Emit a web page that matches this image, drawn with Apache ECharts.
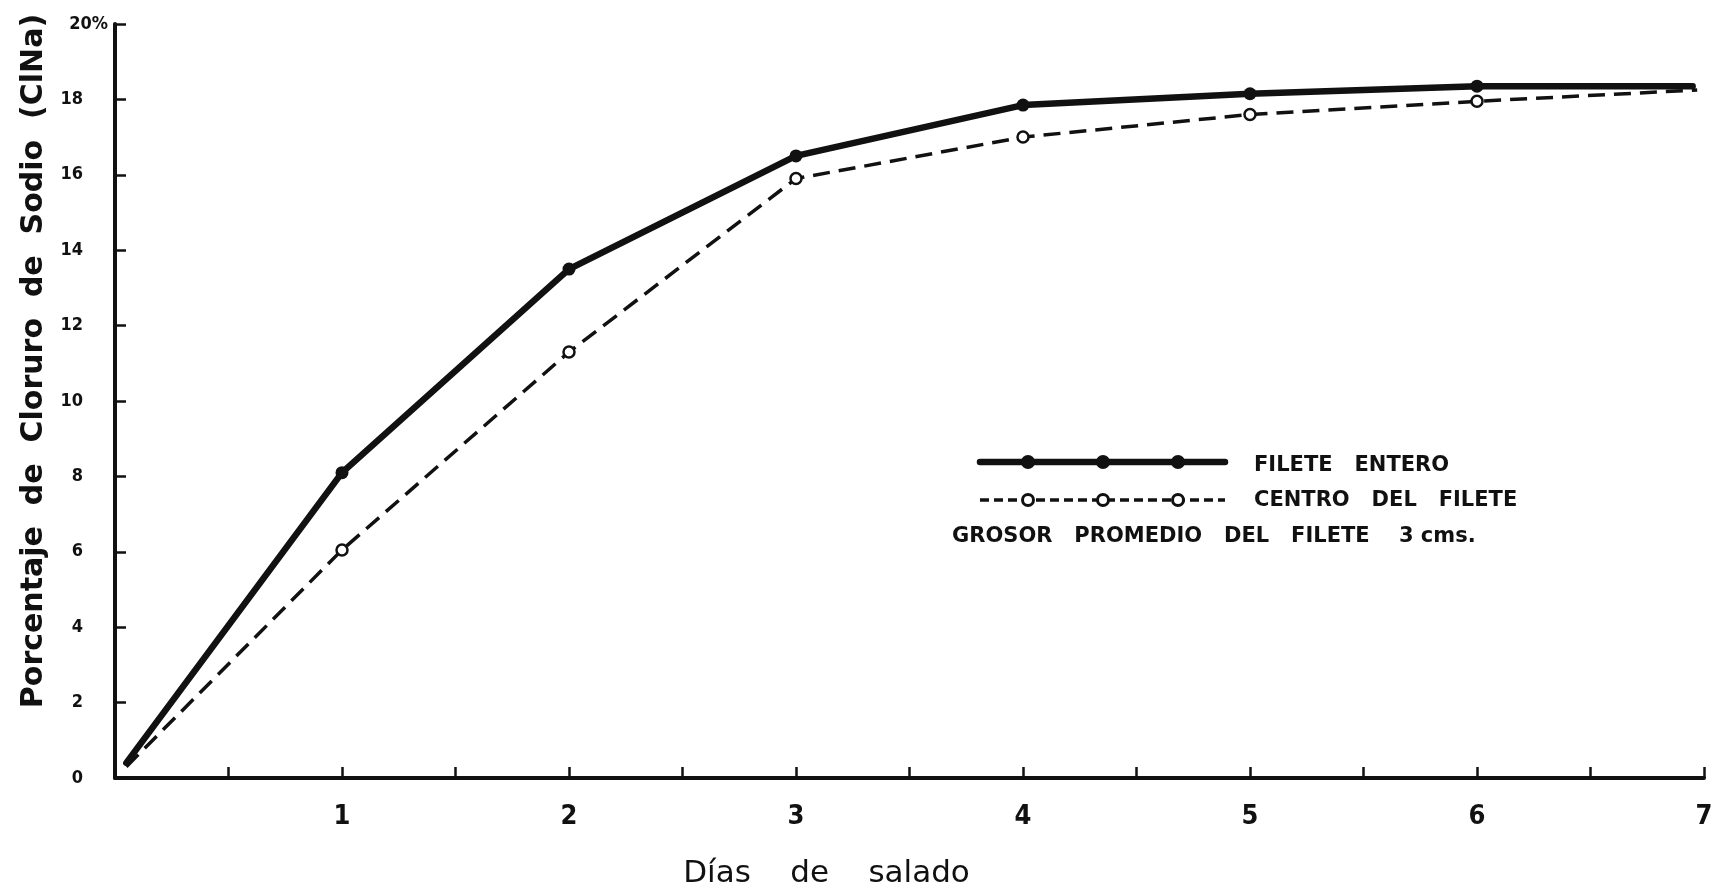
<!DOCTYPE html>
<html>
<head>
<meta charset="utf-8">
<script src="https://cdn.jsdelivr.net/npm/echarts@6/dist/echarts.min.js"></script>
<style>
  html, body { margin: 0; padding: 0; background: #ffffff; }
  #chart { width: 1713px; height: 887px; }
</style>
</head>
<body>
<div id="chart"></div>
<script>
// dias de salado / % ClNa
var diasEntero = [0.05, 1, 2, 3, 4, 5, 6, 6.95];
var fileteEntero = [0.4, 8.1, 13.5, 16.5, 17.85, 18.15, 18.35, 18.35];
var diasCentro = [0.05, 1, 2, 3, 4, 5, 6, 6.97];
var centroFilete = [0.3, 6.05, 11.3, 15.9, 17.0, 17.6, 17.95, 18.25];
var leyenda = ["FILETE   ENTERO", "CENTRO   DEL   FILETE", "GROSOR   PROMEDIO   DEL   FILETE    3 cms."];

function pares(xs, ys) {
  var out = [];
  for (var i = 0; i < xs.length; i++) out.push([xs[i], ys[i]]);
  return out;
}

var ink = "#111111";
var fuente = "DejaVu Sans Condensed";
var etiquetaY = { color: ink, fontFamily: fuente, fontWeight: "bold", fontSize: 18 };

var chart = echarts.init(document.getElementById("chart"));
chart.setOption({
  backgroundColor: "#ffffff",
  animation: false,
  grid: { left: 115, right: 9, top: 24, bottom: 109, outerBoundsMode: "none" },
  xAxis: {
    type: "value",
    min: 0,
    max: 7,
    interval: 0.5,
    name: "Días    de    salado",
    nameLocation: "middle",
    nameGap: 80,
    nameTextStyle: { color: ink, fontFamily: "DejaVu Sans", fontSize: 31, padding: [0, 166, 0, 0] },
    axisLine: { lineStyle: { color: ink, width: 4 } },
    axisTick: { inside: true, length: 11, lineStyle: { color: ink, width: 2.5 } },
    axisLabel: {
      margin: 25,
      color: ink,
      fontFamily: fuente,
      fontWeight: "bold",
      fontSize: 27,
      formatter: function (v) {
        return v % 1 === 0 && v > 0 ? String(v) : "";
      },
    },
    splitLine: { show: false },
  },
  yAxis: {
    type: "value",
    min: 0,
    max: 20,
    interval: 2,
    name: "Porcentaje  de  Cloruro  de  Sodio  (ClNa)",
    nameLocation: "middle",
    nameRotate: 90,
    nameGap: 58,
    nameTextStyle: { color: ink, fontFamily: "DejaVu Sans", fontWeight: "bold", fontSize: 30, padding: [0, 0, 0, 80] },
    axisLine: { lineStyle: { color: ink, width: 4 } },
    axisTick: { inside: true, length: 11, lineStyle: { color: ink, width: 2.5 } },
    axisLabel: {
      margin: 7,
      color: ink,
      fontFamily: fuente,
      fontWeight: "bold",
      fontSize: 18,
      formatter: function (v) {
        return v === 20 ? "{p|20%}" : "{n|" + v + "}";
      },
      rich: {
        p: etiquetaY,
        n: Object.assign({ padding: [0, 25, 0, 0] }, etiquetaY),
      },
    },
    splitLine: { show: false },
  },
  series: [
    {
      name: leyenda[0],
      type: "line",
      data: pares(diasEntero, fileteEntero),
      symbol: function (val) {
        return val[0] % 1 === 0 ? "circle" : "none";
      },
      symbolSize: 13,
      lineStyle: { color: ink, width: 6.5, cap: "round" },
      itemStyle: { color: ink, borderWidth: 0 },
      z: 3,
    },
    {
      name: leyenda[1],
      type: "line",
      data: pares(diasCentro, centroFilete),
      symbol: function (val) {
        return val[0] % 1 === 0 ? "circle" : "none";
      },
      symbolSize: 11,
      lineStyle: { color: ink, width: 3.5, type: [17, 9] },
      itemStyle: { color: "#ffffff", borderColor: ink, borderWidth: 2.5 },
      z: 2,
    },
  ],
  // leyenda dibujada a mano (tres marcadores por linea)
  graphic: [
    { type: "line", shape: { x1: 980, y1: 462, x2: 1225, y2: 462 }, style: { stroke: ink, lineWidth: 6.5, lineCap: "round" } },
    { type: "circle", shape: { cx: 1028, cy: 462, r: 7 }, style: { fill: ink } },
    { type: "circle", shape: { cx: 1103, cy: 462, r: 7 }, style: { fill: ink } },
    { type: "circle", shape: { cx: 1178, cy: 462, r: 7 }, style: { fill: ink } },
    { type: "line", shape: { x1: 980, y1: 500, x2: 1225, y2: 500 }, style: { stroke: ink, lineWidth: 3.5, lineDash: [9, 5] } },
    { type: "circle", shape: { cx: 1028, cy: 500, r: 5.5 }, style: { fill: "#ffffff", stroke: ink, lineWidth: 3 } },
    { type: "circle", shape: { cx: 1103, cy: 500, r: 5.5 }, style: { fill: "#ffffff", stroke: ink, lineWidth: 3 } },
    { type: "circle", shape: { cx: 1178, cy: 500, r: 5.5 }, style: { fill: "#ffffff", stroke: ink, lineWidth: 3 } },
    {
      type: "text", x: 1254, y: 466,
      style: { text: leyenda[0], fill: ink, font: "bold 21px DejaVu Sans", verticalAlign: "middle" },
    },
    {
      type: "text", x: 1254, y: 501,
      style: { text: leyenda[1], fill: ink, font: "bold 21px DejaVu Sans", verticalAlign: "middle" },
    },
    {
      type: "text", x: 952, y: 537,
      style: { text: leyenda[2], fill: ink, font: "bold 21px DejaVu Sans", verticalAlign: "middle" },
    },
  ],
});
</script>
</body>
</html>
